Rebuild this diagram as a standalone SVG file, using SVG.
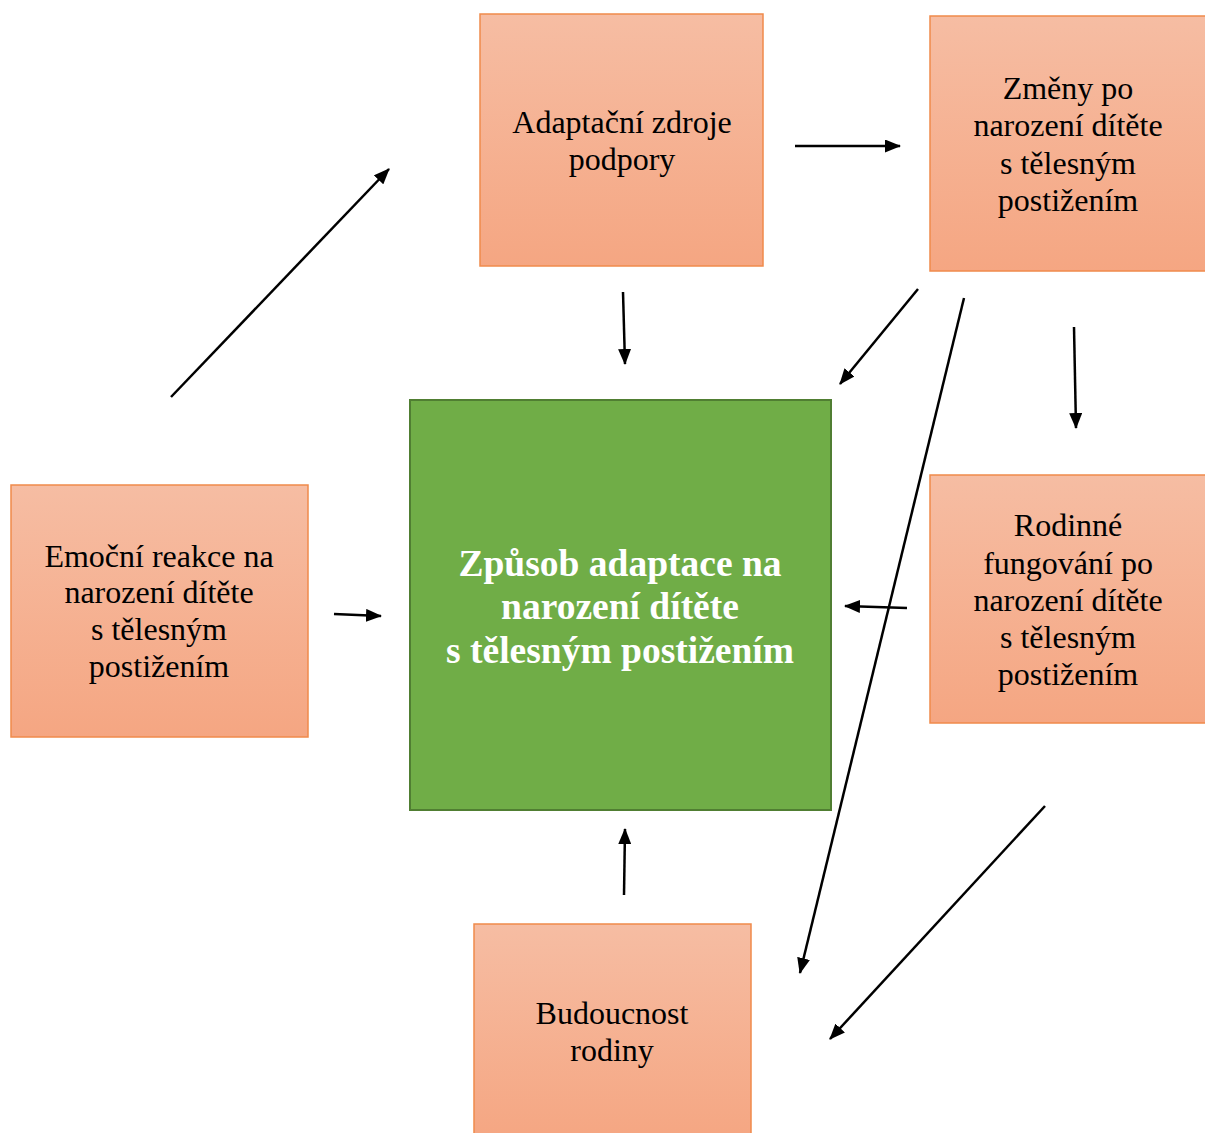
<svg xmlns="http://www.w3.org/2000/svg" width="1205" height="1133" viewBox="0 0 1205 1133">
<style>
.box{fill:url(#og);stroke:#F08A4B;stroke-width:1.5}
.main{fill:#70AD47;stroke:#507E32;stroke-width:2}
.t{font-family:"Liberation Serif","Times New Roman",serif;font-size:32px;fill:#000;text-anchor:middle}
.tm{font-family:"Liberation Serif","Times New Roman",serif;font-size:37.5px;font-weight:bold;fill:#fff;text-anchor:middle}
.c line{stroke:#000;stroke-width:2.5;marker-end:url(#ah)}
</style>
<defs>
<linearGradient id="og" x1="0" y1="0" x2="0" y2="1">
<stop offset="0" stop-color="#F6BDA3"/>
<stop offset="1" stop-color="#F5A682"/>
</linearGradient>
<marker id="ah" viewBox="0 0 16 13" refX="15" refY="6.5" markerWidth="16" markerHeight="13" markerUnits="userSpaceOnUse" orient="auto">
<path d="M0,0 L16,6.5 L0,13 z" fill="#000"/>
</marker>
</defs>
<rect width="1205" height="1133" fill="#fff"/>
<g id="adaptacni">
<rect class="box" x="480" y="14" width="283" height="252"/>
<text class="t" x="622" y="133">Adaptační zdroje</text>
<text class="t" x="622" y="170">podpory</text>
</g>
<g id="zmeny">
<rect class="box" x="930" y="16" width="280" height="255"/>
<text class="t" x="1068" y="99">Změny po</text>
<text class="t" x="1068" y="136">narození dítěte</text>
<text class="t" x="1068" y="174">s tělesným</text>
<text class="t" x="1068" y="211">postižením</text>
</g>
<g id="emocni">
<rect class="box" x="11" y="485" width="297" height="252"/>
<text class="t" x="159" y="567">Emoční reakce na</text>
<text class="t" x="159" y="603">narození dítěte</text>
<text class="t" x="159" y="640">s tělesným</text>
<text class="t" x="159" y="677">postižením</text>
</g>
<g id="zpusob">
<rect class="main" x="410" y="400" width="421" height="410"/>
<text class="tm" x="620" y="576">Způsob adaptace na</text>
<text class="tm" x="620" y="619">narození dítěte</text>
<text class="tm" x="620" y="663">s tělesným postižením</text>
</g>
<g id="rodinne">
<rect class="box" x="930" y="475" width="280" height="248"/>
<text class="t" x="1068" y="536">Rodinné</text>
<text class="t" x="1068" y="574">fungování po</text>
<text class="t" x="1068" y="611">narození dítěte</text>
<text class="t" x="1068" y="648">s tělesným</text>
<text class="t" x="1068" y="685">postižením</text>
</g>
<g id="budoucnost">
<rect class="box" x="474" y="924" width="277" height="215"/>
<text class="t" x="612" y="1024">Budoucnost</text>
<text class="t" x="612" y="1061">rodiny</text>
</g>
<g id="connectors" class="c">
<line x1="171" y1="397" x2="389" y2="169"/>
<line x1="795" y1="146" x2="900" y2="146"/>
<line x1="623" y1="292" x2="625" y2="364"/>
<line x1="918" y1="289" x2="840" y2="384"/>
<line x1="964" y1="298" x2="800" y2="973"/>
<line x1="1074" y1="327" x2="1076" y2="428"/>
<line x1="907" y1="608" x2="845" y2="606"/>
<line x1="334" y1="614" x2="381" y2="616"/>
<line x1="624" y1="895" x2="625" y2="829"/>
<line x1="1045" y1="806" x2="830" y2="1039"/>
</g>
</svg>
